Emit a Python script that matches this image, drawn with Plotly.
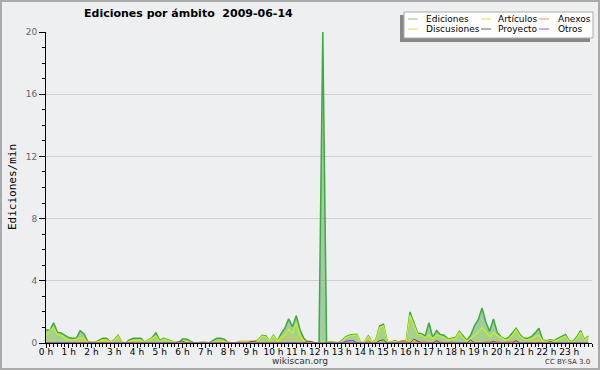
import plotly.graph_objects as go

# 10-minute slots, 144 per day (hours = i/6)
ediciones = [0.85,0.8,1.3,0.7,0.65,0.5,0.35,0.3,0.3,0.8,0.6,0.1,0.05,0.05,0.2,0.3,0.3,0.05,0.2,0.5,0.05,0,0.2,0.3,
             0.3,0.3,0.05,0.2,0.35,0.65,0.15,0.3,0.2,0.1,0.05,0,0.25,0.25,0.1,0,0,0.05,0.05,0,0.15,0.3,0.3,0.25,
             0.05,0,0,0.1,0.1,0.1,0.1,0.1,0.2,0.5,0.45,0.1,0.5,0.1,0.6,0.95,1.55,1.05,1.75,0.85,0.3,0.05,0.05,0,
             0,20,0,0.08,0.05,0,0.15,0.4,0.5,0.55,0.55,0.02,0.05,0.45,0.05,0.2,1.1,1.2,0.1,0.05,0.15,0.05,0.15,0.15,
             2.0,1.3,0.65,0.6,0.45,1.3,0.35,0.8,0.55,0.5,0.25,0.3,0.35,0.75,0.45,0.17,0.5,1.1,1.5,2.25,1.35,0.75,1.55,0.7,
             0.4,0.25,0.35,0.65,0.95,0.55,0.3,0.3,0.4,0.65,0.95,0.2,0.15,0.2,0.15,0.3,0.4,0.55,0.15,0.1,0.4,0.8,0.2,0.45]
articulos = [0.5,0.8,1.0,0.55,0.5,0.3,0.2,0.2,0.25,0.35,0.3,0.05,0.05,0.05,0.1,0.2,0.2,0.05,0.15,0.45,0.05,0,0.1,0.15,
             0.15,0.2,0.05,0.15,0.3,0.45,0.1,0.25,0.15,0.1,0.05,0,0.15,0.1,0.05,0,0,0.05,0.05,0,0.05,0.1,0.1,0.1,
             0.05,0,0,0.05,0.05,0.05,0.05,0.05,0.15,0.45,0.4,0.1,0.45,0.1,0.4,0.5,0.9,0.6,1.3,0.45,0.15,0.05,0.05,0,
             0,0.1,0,0.05,0.05,0,0.1,0.35,0.45,0.5,0.5,0,0.05,0.4,0.05,0.15,1.0,1.1,0.1,0.05,0.1,0.05,0.1,0.1,
             1.8,1.2,0.55,0.5,0.35,0.5,0.3,0.5,0.45,0.35,0.2,0.25,0.3,0.7,0.35,0.1,0.3,0.55,0.7,1.0,0.7,0.4,0.65,0.5,
             0.3,0.2,0.25,0.5,0.85,0.45,0.25,0.2,0.3,0.4,0.5,0.15,0.1,0.15,0.1,0.2,0.3,0.45,0.1,0.05,0.3,0.7,0.15,0.4]
discusiones = [0.3,0.15,0,0,0,0,0,0,0,0.15,0.2,0,0,0,0,0.1,0.1,0,0,0,0,0,0,0.1,
               0,0,0,0,0.05,0,0,0,0,0,0,0,0,0,0,0,0,0,0,0,0,0.1,0.1,0,
               0,0,0,0.1,0.1,0.1,0.1,0.1,0,0.1,0,0,0.05,0,0.2,0.45,0.45,0.3,0.35,0.25,0.1,0,0,0,
               0,0,0,0,0,0,0,0,0,0,0,0,0,0,0,0,0.05,0,0,0,0,0,0,0,
               0.1,0.1,0,0,0,0,0,0,0,0,0,0,0,0,0,0,0,0.1,0.1,0,0,0,0.1,0.1,
               0,0,0,0,0,0,0,0,0.1,0.1,0.2,0,0,0,0,0,0,0,0,0,0,0.05,0,0]
anexos = [0]*84 + [0,0.15,0,0,0,0,0,0,0,0.1,0.12,0.1,
                   0,0,0.12,0.12,0.1,0,0,0.1,0.1,0,0,0.1,
                   0,0,0,0,0,0,0,0,0.1,0.12,0,0.15,
                   0,0,0.1,0.12,0.1,0,0,0,0,0,0,0]
proyecto_pts = {35: 0.1, 36: 0.12, 54: 0.1, 55: 0.1, 69: 0.12, 70: 0.1, 88: 0.15, 89: 0.2, 97: 0.25, 98: 0.15,
                103: 0.15, 112: 0.2, 118: 0.12, 124: 0.15, 133: 0.1}
proyecto = [proyecto_pts.get(i, 0) for i in range(144)]
otros_pts = {79: 0.1, 80: 0.15, 81: 0.15}
otros = [otros_pts.get(i, 0) for i in range(144)]
hours = [i / 6 for i in range(144)]
hour_ticks = list(range(24))
hour_labels = [f"{h} h" for h in hour_ticks]
y_ticks = [0, 4, 8, 12, 16, 20]

fig = go.Figure()
fig.add_trace(go.Scatter(x=hours, y=ediciones, mode="lines", line=dict(color="#3faa3f", width=1.5),
                         fill="tozeroy", fillcolor="rgba(80,170,80,0.5)", name="Ediciones"))
fig.add_trace(go.Scatter(x=hours, y=articulos, mode="lines", line=dict(color="#c8f020", width=1.3),
                         fill="tozeroy", fillcolor="rgba(200,240,40,0.15)", name="Artículos"))
fig.add_trace(go.Scatter(x=hours, y=discusiones, mode="lines", line=dict(color="#f5c525", width=1),
                         name="Discusiones"))
fig.add_trace(go.Scatter(x=hours, y=anexos, mode="lines", line=dict(color="#ff7a40", width=1), name="Anexos"))
fig.add_trace(go.Scatter(x=hours, y=proyecto, mode="lines", line=dict(color="#555555", width=1), name="Proyecto"))
fig.add_trace(go.Scatter(x=hours, y=otros, mode="lines", line=dict(color="#9944ee", width=1.2), name="Otros"))

font = "DejaVu Sans"
fig.update_layout(
    width=600, height=370, margin=dict(l=46, r=8, t=32, b=27, autoexpand=False),
    paper_bgcolor="#eeeff0", plot_bgcolor="#eeeff0", showlegend=False,
    font=dict(family=font, size=10, color="#000"),
    xaxis=dict(range=[0, 24], tickvals=hour_ticks, ticktext=hour_labels, showgrid=False, zeroline=False,
               showline=True, linecolor="#000", linewidth=1, ticks="outside", ticklen=4, tickcolor="#000",
               tickangle=0, automargin=False, tickfont=dict(size=9, color="#000"), ticklabelstandoff=-4,
               minor=dict(dtick=1/6, ticks="outside", ticklen=3, tickcolor="#000", showgrid=False)),
    yaxis=dict(range=[0, 20], tickvals=y_ticks, showgrid=True, gridcolor="#d0d0d0", gridwidth=1, zeroline=False,
               showline=True, linecolor="#000", linewidth=1, ticks="outside", ticklen=6, tickcolor="#000",
               automargin=False, tickfont=dict(size=9, color="#666"),
               minor=dict(dtick=1, ticks="outside", ticklen=3, tickcolor="#000", showgrid=False)),
)

W, H, L, B, PW, PH = 600, 370, 46, 27, 546, 311


def px(xp):
    return (xp - L) / PW


def py(yp):
    return (H - B - yp) / PH


fig.add_annotation(text="<b>Ediciones por ámbito  2009-06-14</b>", x=px(188), y=py(14), xref="paper", yref="paper",
                   showarrow=False, font=dict(size=11, family=font, color="#000"), xanchor="center", yanchor="middle")
fig.add_annotation(text="Ediciones/min", x=px(12), y=py(187), xref="paper", yref="paper", textangle=-90,
                   showarrow=False, font=dict(size=11, family="DejaVu Sans Mono", color="#000"),
                   xanchor="center", yanchor="middle")
fig.add_annotation(text="wikiscan.org", x=px(300), y=py(361), xref="paper", yref="paper", showarrow=False,
                   font=dict(size=9, family=font, color="#333"), xanchor="center", yanchor="middle")
fig.add_annotation(text="CC BY-SA 3.0", x=px(592), y=py(362), xref="paper", yref="paper", showarrow=False,
                   font=dict(size=7, family=font, color="#333"), xanchor="right", yanchor="middle")

shapes = []
shapes.append(dict(type="rect", xref="paper", yref="paper", x0=px(1), x1=px(599), y0=py(369), y1=py(1),
                   line=dict(color="#aaaaaa", width=2), fillcolor="rgba(0,0,0,0)", layer="above"))
shapes.append(dict(type="rect", xref="paper", yref="paper", x0=px(400), x1=px(590), y0=py(42), y1=py(15),
                   line=dict(width=0), fillcolor="#888888", layer="above"))
shapes.append(dict(type="rect", xref="paper", yref="paper", x0=px(404), x1=px(593), y0=py(38), y1=py(12),
                   line=dict(color="#aaaaaa", width=1), fillcolor="#ffffff", layer="above"))
legend_items = [("Ediciones", "#80c880", 408, 424, 19), ("Artículos", "#c8f040", 481, 496, 19),
                ("Anexos", "#ff8a50", 539, 556, 19), ("Discusiones", "#f5d050", 408, 424, 29),
                ("Proyecto", "#666666", 481, 496, 29), ("Otros", "#9950ee", 539, 556, 29)]
for name, col, lx, tx, yy in legend_items:
    shapes.append(dict(type="line", xref="paper", yref="paper", x0=px(lx), x1=px(lx + 10), y0=py(yy), y1=py(yy),
                       line=dict(color=col, width=1), layer="above"))
    fig.add_annotation(text=name, x=px(tx), y=py(yy), xref="paper", yref="paper", showarrow=False,
                       font=dict(size=9, family=font, color="#000"), xanchor="left", yanchor="middle")
fig.update_layout(shapes=shapes)

fig.write_html("out.html")
